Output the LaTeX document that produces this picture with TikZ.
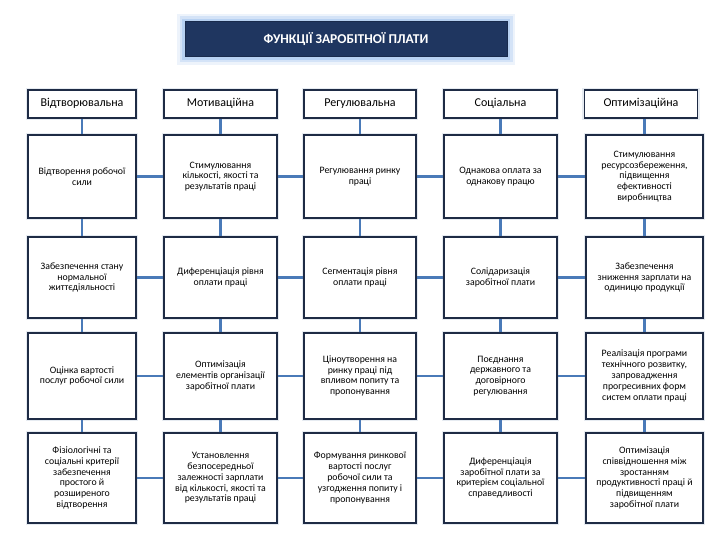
\documentclass[tikz,border=0pt]{standalone}
\usepackage{fontspec}
\setmainfont{Carlito}
\definecolor{navy}{HTML}{1F3660}
\definecolor{boxline}{HTML}{1E2B45}
\definecolor{glowblue}{HTML}{9CC0EE}
\definecolor{conn}{HTML}{4A7AB8}
\begin{document}
\begin{tikzpicture}[x=1pt,y=-1pt,
  base/.style={draw=boxline, line width=1.8pt, fill=white, align=center, inner sep=1pt,
    preaction={draw=glowblue!60!gray!50, line width=4.5pt, opacity=0.45}},
  headbox/.style={base, minimum height=28pt, text height=8.5pt, text depth=2.5pt,
    font=\fontsize{12}{14}\selectfont},
  cellbox/.style={base, font=\fontsize{9.8}{10.8}\selectfont},
  link/.style={draw=conn, line width=2.6pt},
  titlebox/.style={fill=navy, draw=navy!80!black, line width=1pt, text=white,
    font=\bfseries\fontsize{13.5}{15}\selectfont, minimum width=322pt, minimum height=35pt,
    preaction={draw=glowblue, line width=16pt, opacity=0.18},
    preaction={draw=glowblue, line width=11pt, opacity=0.3},
    preaction={draw=glowblue, line width=6pt, opacity=0.5}}
]
\useasboundingbox (0,0) rectangle (720,540);
\fill[white] (0,0) rectangle (720,540);

\node[titlebox] (title) at (346,39.5) {ФУНКЦІЇ ЗАРОБІТНОЇ ПЛАТИ};

% column geometry
\def\cA{82}\def\cB{220.5}\def\cC{360}\def\cD{500.5}\def\cE{644.5}
\def\wA{108pt}\def\wB{113pt}\def\wC{112pt}\def\wD{113pt}\def\wE{117pt}

% headers
\node[headbox, minimum width=\wA] (h1) at (\cA,104) {Відтворювальна};
\node[headbox, minimum width=\wB] (h2) at (\cB,104) {Мотиваційна};
\node[headbox, minimum width=\wC] (h3) at (\cC,104) {Регулювальна};
\node[headbox, minimum width=\wD] (h4) at (\cD,104) {Соціальна};
\node[headbox, minimum width=113pt] (h5) at (641,104) {Оптимізаційна};

% row 1
\begin{scope}[every node/.append style={minimum height=83pt}]
\node[cellbox, minimum width=\wA] (a1) at (\cA,176.5) {Відтворення робочої\\сили};
\node[cellbox, minimum width=\wB] (b1) at (\cB,176.5) {Стимулювання\\кількості, якості та\\результатів праці};
\node[cellbox, minimum width=\wC] (c1) at (\cC,176.5) {Регулювання ринку\\праці};
\node[cellbox, minimum width=\wD] (d1) at (\cD,176.5) {Однакова оплата за\\однакову працю};
\node[cellbox, minimum width=\wE] (e1) at (\cE,176.5) {Стимулювання\\ресурсозбереження,\\підвищення\\ефективності\\виробництва};
\end{scope}

% row 2
\begin{scope}[every node/.append style={minimum height=81pt}]
\node[cellbox, minimum width=\wA] (a2) at (\cA,277.5) {Забезпечення стану\\нормальної\\життєдіяльності};
\node[cellbox, minimum width=\wB] (b2) at (\cB,277.5) {Диференціація рівня\\оплати праці};
\node[cellbox, minimum width=\wC] (c2) at (\cC,277.5) {Сегментація рівня\\оплати праці};
\node[cellbox, minimum width=\wD] (d2) at (\cD,277.5) {Солідаризація\\заробітної плати};
\node[cellbox, minimum width=\wE] (e2) at (\cE,277.5) {Забезпечення\\зниження зарплати на\\одиницю продукції};
\end{scope}

% row 3
\begin{scope}[every node/.append style={minimum height=86pt}]
\node[cellbox, minimum width=\wA] (a3) at (\cA,376) {Оцінка вартості\\послуг робочої сили};
\node[cellbox, minimum width=\wB] (b3) at (\cB,376) {Оптимізація\\елементів організації\\заробітної плати};
\node[cellbox, minimum width=\wC] (c3) at (\cC,376) {Ціноутворення на\\ринку праці під\\впливом попиту та\\пропонування};
\node[cellbox, minimum width=\wD] (d3) at (\cD,376) {Поєднання\\державного та\\договірного\\регулювання};
\node[cellbox, minimum width=\wE] (e3) at (\cE,376) {Реалізація програми\\технічного розвитку,\\запровадження\\прогресивних форм\\систем оплати праці};
\end{scope}

% row 4
\begin{scope}[every node/.append style={minimum height=90pt}]
\node[cellbox, minimum width=\wA] (a4) at (\cA,478) {Фізіологічні та\\соціальні критерії\\забезпечення\\простого й\\розширеного\\відтворення};
\node[cellbox, minimum width=\wB] (b4) at (\cB,478) {Установлення\\безпосередньої\\залежності зарплати\\від кількості, якості та\\результатів праці};
\node[cellbox, minimum width=\wC] (c4) at (\cC,478) {Формування ринкової\\вартості послуг\\робочої сили та\\узгодження попиту і\\пропонування};
\node[cellbox, minimum width=\wD] (d4) at (\cD,478) {Диференціація\\заробітної плати за\\критерієм соціальної\\справедливості};
\node[cellbox, minimum width=\wE] (e4) at (\cE,478) {Оптимізація\\співвідношення між\\зростанням\\продуктивності праці й\\підвищенням\\заробітної плати};
\end{scope}

% vertical connectors
\foreach \c/\h in {a/h1,b/h2,c/h3,d/h4}{
  \draw[link] (\h.south) -- (\c1.north);
  \draw[link] (\c1.south) -- (\c2.north);
  \draw[link] (\c2.south) -- (\c3.north);
  \draw[link] (\c3.south) -- (\c4.north);
}
\draw[link] (h5.south -| e1.north) -- (e1.north);
\draw[link] (e1.south) -- (e2.north);
\draw[link] (e2.south) -- (e3.north);
\draw[link] (e3.south) -- (e4.north);

% horizontal connectors
\foreach \r in {1,2,3,4}{
  \draw[link] (a\r.east) -- (b\r.west);
  \draw[link] (b\r.east) -- (c\r.west);
  \draw[link] (c\r.east) -- (d\r.west);
  \draw[link] (d\r.east) -- (e\r.west);
}
\end{tikzpicture}
\end{document}
